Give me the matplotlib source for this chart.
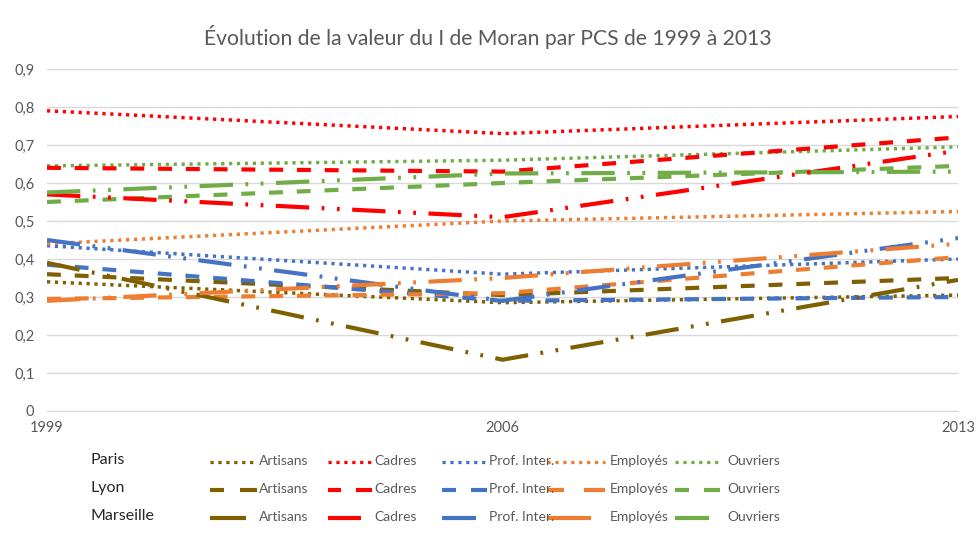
import matplotlib
matplotlib.use("Agg")
import matplotlib.pyplot as plt
from matplotlib.lines import Line2D

plt.rcParams['font.family'] = ['Lato', 'DejaVu Sans']
plt.rcParams['lines.scale_dashes'] = False

years = [1999, 2006, 2013]
cities = ["Paris", "Lyon", "Marseille"]
categories = ["Artisans", "Cadres", "Prof. Inter.", "Employés", "Ouvriers"]

paris_artisans = [0.34, 0.285, 0.305]
paris_cadres = [0.79, 0.73, 0.775]
paris_prof = [0.435, 0.36, 0.40]
paris_employes = [0.44, 0.50, 0.525]
paris_ouvriers = [0.645, 0.66, 0.695]

lyon_artisans = [0.36, 0.305, 0.35]
lyon_cadres = [0.64, 0.63, 0.72]
lyon_prof = [0.385, 0.29, 0.30]
lyon_employes = [0.295, 0.31, 0.405]
lyon_ouvriers = [0.55, 0.60, 0.645]

marseille_artisans = [0.39, 0.135, 0.345]
marseille_cadres = [0.57, 0.51, 0.685]
marseille_prof = [0.45, 0.29, 0.455]
marseille_employes = [0.29, 0.35, 0.44]
marseille_ouvriers = [0.575, 0.625, 0.63]

y_ticks = [0, 0.1, 0.2, 0.3, 0.4, 0.5, 0.6, 0.7, 0.8, 0.9]
y_tick_labels = ["0", "0,1", "0,2", "0,3", "0,4", "0,5", "0,6", "0,7", "0,8", "0,9"]

data = {
    "Paris": [paris_artisans, paris_cadres, paris_prof, paris_employes, paris_ouvriers],
    "Lyon": [lyon_artisans, lyon_cadres, lyon_prof, lyon_employes, lyon_ouvriers],
    "Marseille": [marseille_artisans, marseille_cadres, marseille_prof, marseille_employes, marseille_ouvriers],
}

colors = ["#7F6000", "#FF0000", "#4472C4", "#ED7D31", "#70AD47"]
styles = {
    "Paris": dict(lw=2.5, dashes=(2.3, 3.4)),
    "Lyon": dict(lw=3.0, dashes=(10, 10)),
    "Marseille": dict(lw=3.0, dashes=(24, 9, 2, 9, 2, 9)),
}

W, H = 976, 533
fig = plt.figure(figsize=(W / 100, H / 100), dpi=100)
ax = fig.add_axes([47 / W, 1 - 411 / H, (958 - 47) / W, (411 - 69) / H])

for city in cities:
    st = styles[city]
    for i, cat in enumerate(categories):
        ax.plot(years, data[city][i], color=colors[i], lw=st['lw'],
                linestyle=(0, st['dashes']), dash_capstyle='butt',
                solid_capstyle='butt')

ax.set_xlim(1999, 2013)
ax.set_ylim(0, 0.9)
ax.set_yticks(y_ticks)
ax.set_yticklabels(y_tick_labels)
ax.set_xticks(years)
ax.set_xticklabels([str(y) for y in years])
ax.grid(axis='y', color='#D9D9D9', lw=1)
ax.set_axisbelow(True)
for s in ['top', 'right', 'left']:
    ax.spines[s].set_visible(False)
ax.spines['bottom'].set_color('#D9D9D9')
ax.tick_params(axis='both', length=0, labelsize=10.5, colors='#595959')
ax.tick_params(axis='y', pad=9)
ax.tick_params(axis='x', pad=7)

fig.text(0.5, 1 - 37 / H, "Évolution de la valeur du I de Moran par PCS de 1999 à 2013",
         ha='center', va='center', fontsize=15.2, color='#595959')

# custom legend (pixel layout measured from reference)
handle_x = [(210, 257), (328, 372), (442, 487), (547, 605), (675, 720)]
text_x = [259, 374, 489, 610, 727]
row_y = {"Paris": 462, "Lyon": 490, "Marseille": 518}
city_x = 91


def fx(px):
    return px / W


def fy(py):
    return 1 - py / H


for city in cities:
    yy = row_y[city]
    fig.text(fx(city_x), fy(yy - 2), city, fontsize=11.5, color='#262626',
             va='center', ha='left')
    for i, cat in enumerate(categories):
        x0, x1 = handle_x[i]
        L = x1 - x0
        if city == "Paris":
            fig.add_artist(Line2D([fx(x0), fx(x1)], [fy(yy), fy(yy)],
                                  transform=fig.transFigure, color=colors[i],
                                  lw=2.3, linestyle=(0, (2.3, 3.4)),
                                  dash_capstyle='butt'))
        elif city == "Lyon":
            for a, b in [(x0, x0 + 0.3 * L), (x1 - 0.36 * L, x1)]:
                fig.add_artist(Line2D([fx(a), fx(b)], [fy(yy), fy(yy)],
                                      transform=fig.transFigure, color=colors[i],
                                      lw=3.0, solid_capstyle='butt'))
        else:
            fig.add_artist(Line2D([fx(x0), fx(x0 + 0.76 * L)], [fy(yy), fy(yy)],
                                  transform=fig.transFigure, color=colors[i],
                                  lw=3.0, solid_capstyle='butt'))
        fig.text(fx(text_x[i]), fy(yy - 1), cat, fontsize=10, color='#595959',
                 va='center', ha='left')

fig.savefig("out.png", dpi=100)
